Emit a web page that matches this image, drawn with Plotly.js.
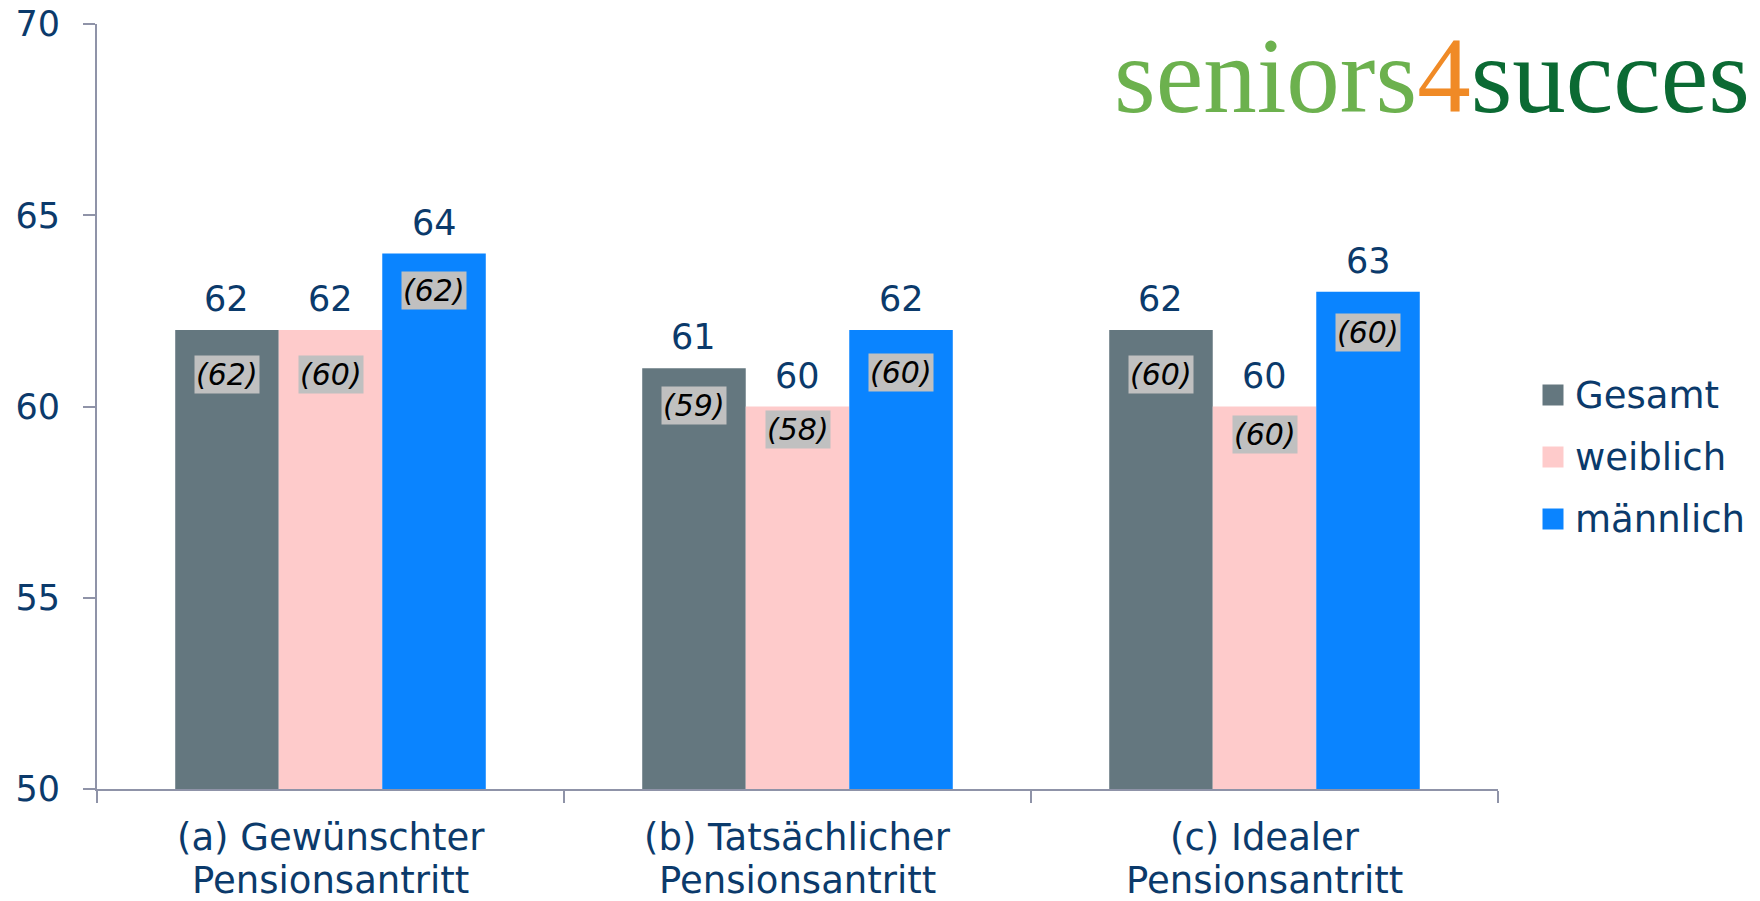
<!DOCTYPE html>
<html>
<head>
<meta charset="utf-8">
<script src="https://cdn.plot.ly/plotly-3.0.1.min.js"></script>
<style>
  html, body { margin: 0; padding: 0; background: #ffffff; }
  #chart { width: 1760px; height: 901px; }
</style>
</head>
<body>
<div id="chart"></div>
<script>
// ---------- data ----------
const categories = [
  "(a) Gewünschter Pensionsantritt",
  "(b) Tatsächlicher Pensionsantritt",
  "(c) Idealer Pensionsantritt"
];
const seriesNames = ["Gesamt", "weiblich", "männlich"];
const gesamtValues   = [62, 61, 62];
const weiblichValues = [62, 60, 60];
const maennlichValues = [64, 62, 63];
const gesamtPrev    = ["(62)", "(59)", "(60)"];
const weiblichPrev  = ["(60)", "(58)", "(60)"];
const maennlichPrev = ["(62)", "(60)", "(60)"];
const yTickValues = [50, 55, 60, 65, 70];
const logoParts = ["seniors", "4", "succes"];

// ---------- styles ----------
const seriesColors = ["#64777f", "#fecbcb", "#0a84ff"];
const textBlue = "#0b3a6b";
const axisGrey = "#8f93a8";
const fontFam = "DejaVu Sans, Verdana, sans-serif";
const bargap = 0.335;
const yMin = 50, yMax = 70;
// pixel drop of the inner (previous-value) label box below the bar top
const innerDrop = [[25, 18, 25], [25, 3, 8], [17, 23, 21]];

const allValues = [gesamtValues, weiblichValues, maennlichValues];
const allPrev = [gesamtPrev, weiblichPrev, maennlichPrev];

// bars are drawn as heights above the axis minimum (axis starts at 50)
const traces = allValues.map((vals, s) => ({
  type: "bar",
  name: seriesNames[s],
  x: categories,
  y: vals.map(v => v - yMin),
  customdata: vals,
  marker: { color: seriesColors[s] },
  showlegend: false,
  hovertemplate: "%{x}<br>" + seriesNames[s] + ": %{customdata}<extra></extra>"
}));

const barW = (1 - bargap) / seriesNames.length;
const annotations = [];
allValues.forEach((vals, s) => {
  vals.forEach((v, i) => {
    const xc = i + (s - (seriesNames.length - 1) / 2) * barW;
    annotations.push({
      x: xc, y: v - yMin, xref: "x", yref: "y",
      text: String(v), showarrow: false,
      xanchor: "center", yanchor: "bottom", yshift: 9,
      font: { family: fontFam, size: 35, color: textBlue }
    });
    annotations.push({
      x: xc, y: v - yMin, xref: "x", yref: "y",
      text: "<i>" + allPrev[s][i] + "</i>", showarrow: false,
      xanchor: "center", yanchor: "top", yshift: -innerDrop[s][i],
      bgcolor: "#c0c0c0", borderpad: 1,
      font: { family: fontFam, size: 30, color: "#000000" }
    });
  });
});

// category labels (two lines)
categories.forEach((c, i) => {
  const k = c.lastIndexOf(" ");
  [c.slice(0, k), c.slice(k + 1)].forEach((line, j) => {
    annotations.push({
      x: i, y: 0, xref: "x", yref: "paper",
      text: line, showarrow: false, borderpad: 0,
      xanchor: "center", yanchor: "top", yshift: j === 0 ? -26 : -69,
      font: { family: fontFam, size: 37, color: textBlue }
    });
  });
});

// legend (manual, to match the large square keys)
const plotL = 97, plotR = 1498, plotT = 24, plotB = 789;
const px2x = p => (p - plotL) / (plotR - plotL);
const px2y = p => (plotB - p) / (plotB - plotT);
const legendRows = [395, 457, 519];
const shapes = [];
seriesNames.forEach((n, s) => {
  shapes.push({
    type: "rect", xref: "paper", yref: "paper",
    xsizemode: "pixel", ysizemode: "pixel",
    xanchor: px2x(1553), yanchor: px2y(legendRows[s]),
    x0: -10.5, x1: 10.5, y0: -10.5, y1: 10.5,
    fillcolor: seriesColors[s], line: { width: 0 }
  });
  annotations.push({
    x: px2x(1573), y: px2y(legendRows[s]), xref: "paper", yref: "paper",
    text: n, showarrow: false, xanchor: "left", yanchor: "middle",
    font: { family: fontFam, size: 37, color: textBlue }
  });
});

// logo text
annotations.push({
  x: px2x(1112), y: px2y(15), xref: "paper", yref: "paper",
  xanchor: "left", yanchor: "top", showarrow: false,
  text: '<span style="color:#6cb14e">' + logoParts[0] + '</span>' +
        '<span style="color:#f08a26">' + logoParts[1] + '</span>' +
        '<span style="color:#0b6a33">' + logoParts[2] + '</span>',
  font: { family: "Liberation Serif, serif", size: 107, color: "#6cb14e" }
});

const layout = {
  width: 1760, height: 901,
  margin: { l: plotL, r: 1760 - plotR, t: plotT, b: 901 - plotB },
  paper_bgcolor: "#ffffff", plot_bgcolor: "#ffffff",
  barmode: "group", bargap: bargap, bargroupgap: 0,
  showlegend: false,
  xaxis: {
    type: "category",
    showticklabels: false,
    showline: true, linecolor: axisGrey, linewidth: 2,
    ticks: "outside", tickson: "boundaries", ticklen: 12, tickcolor: axisGrey, tickwidth: 2,
    showgrid: false, zeroline: false, fixedrange: true
  },
  yaxis: {
    range: [0, yMax - yMin],
    tickvals: yTickValues.map(v => v - yMin),
    ticktext: yTickValues.map(String),
    showline: true, linecolor: axisGrey, linewidth: 2,
    ticks: "outside", ticklen: 12, tickcolor: axisGrey, tickwidth: 2,
    ticklabelstandoff: 16,
    tickfont: { family: fontFam, size: 35, color: textBlue },
    showgrid: false, zeroline: false, fixedrange: true
  },
  annotations: annotations,
  shapes: shapes
};

Plotly.newPlot("chart", traces, layout, { displayModeBar: false, staticPlot: true });
</script>
</body>
</html>
